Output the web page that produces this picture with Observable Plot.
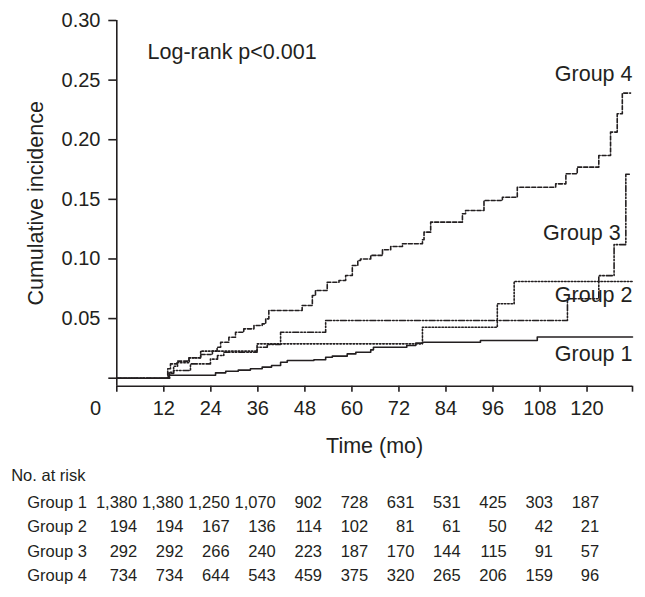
<!DOCTYPE html>
<html>
<head>
<meta charset="utf-8">
<script src="https://cdn.jsdelivr.net/npm/d3@7"></script>
<script src="https://cdn.jsdelivr.net/npm/@observablehq/plot@0.6"></script>
<style>
  html, body { margin: 0; padding: 0; background: #ffffff; }
  #chart svg { display: block; }
</style>
</head>
<body>
<div id="chart"></div>
<script>
// ---------- data ----------
const groups = ["Group 1", "Group 2", "Group 3", "Group 4"];

const g1Time  = [0, 13.3, 25.2, 27.8, 31, 34.1, 37.1, 39.5, 41.8, 43.5, 50.3, 53.3, 55, 58.8, 61, 64.8, 65.5, 74, 76.3, 78, 92.8, 107.3, 131.6];
const g1Value = [0, 0.0025, 0.0045, 0.0059, 0.0068, 0.0079, 0.0093, 0.0107, 0.0134, 0.0148, 0.0155, 0.0176, 0.0185, 0.0204, 0.0218, 0.0238, 0.026, 0.0274, 0.0294, 0.0302, 0.0316, 0.0345, 0.0345];

const g2Time  = [0, 13.3, 14.5, 15.5, 18.5, 21.4, 35.8, 78, 97.1, 101.4, 131.6];
const g2Value = [0, 0.005, 0.010, 0.013, 0.017, 0.0227, 0.0288, 0.0428, 0.0624, 0.0811, 0.0811];

const g3Time  = [0, 13.5, 14.5, 18.8, 23.9, 25.7, 27.3, 35.8, 38.4, 41.8, 53.3, 115, 123, 126.9, 129.9, 131.1];
const g3Value = [0, 0.004, 0.0065, 0.012, 0.016, 0.019, 0.0218, 0.026, 0.0283, 0.0386, 0.0484, 0.0666, 0.086, 0.112, 0.171, 0.171];

const g4Time  = [0, 13.0, 13.7, 15.4, 18.4, 21.4, 24.4, 25.6, 26.5, 28.6, 30.3, 32.4, 35, 37.1, 38, 38.8, 47.3, 49.9, 50.7, 53.7, 56.7, 58.4, 60.1, 61.5, 62.2, 64.8, 67.8, 69.9, 72.9, 78, 78.4, 80.1, 88.2, 89, 93.7, 98.4, 102.2, 112, 114.6, 117.5, 123, 126, 127.7, 129, 131.1];
const g4Value = [0, 0.0079, 0.012, 0.0143, 0.0171, 0.0199, 0.0227, 0.026, 0.0302, 0.0344, 0.0386, 0.0414, 0.0442, 0.0456, 0.0498, 0.0568, 0.061, 0.0694, 0.0736, 0.0805, 0.082, 0.0862, 0.0945, 0.0987, 0.1, 0.103, 0.1077, 0.1105, 0.1128, 0.1161, 0.1225, 0.1309, 0.1379, 0.1407, 0.149, 0.1518, 0.1602, 0.163, 0.1715, 0.177, 0.1868, 0.2064, 0.2218, 0.2391, 0.2391];

const atRiskTimes = [0, 12, 24, 36, 48, 60, 72, 84, 96, 108, 120];
const atRisk1 = [1380, 1380, 1250, 1070, 902, 728, 631, 531, 425, 303, 187];
const atRisk2 = [194, 194, 167, 136, 114, 102, 81, 61, 50, 42, 21];
const atRisk3 = [292, 292, 266, 240, 223, 187, 170, 144, 115, 91, 57];
const atRisk4 = [734, 734, 644, 543, 459, 375, 320, 265, 206, 159, 96];

const xTicks = [12, 24, 36, 48, 60, 72, 84, 96, 108, 120];
const yTicks = [0, 0.05, 0.10, 0.15, 0.20, 0.25, 0.30];
const xMax = 131.6;
const yMin = -0.0067;
const yMax = 0.30;

const groupLabels = ["Group 4", "Group 3", "Group 2", "Group 1"];
const groupLabelX = [131.6, 128.6, 131.6, 131.6];
const groupLabelY = [0.249, 0.1155, 0.0643, 0.0148];

const testText = "Log-rank p<0.001";
const testX = 7.84;
const testY = 0.268;

const xLabel = "Time (mo)";
const yLabel = "Cumulative incidence";
const tableTitle = "No. at risk";

// ---------- tables ----------
const times = [g1Time, g2Time, g3Time, g4Time];
const values = [g1Value, g2Value, g3Value, g4Value];
const curves = groups.map((g, i) => times[i].map((t, j) => ({group: g, time: t, value: values[i][j]})));
const risks = [atRisk1, atRisk2, atRisk3, atRisk4];
const riskRows = groups.flatMap((g, i) => atRiskTimes.map((t, j) => ({group: g, row: i + 1, time: t, n: risks[i][j]})));
const labelRows = groupLabels.map((t, i) => ({text: t, x: groupLabelX[i], y: groupLabelY[i]}));

const ink = "#231f20";
const font = "'Liberation Sans', Arial, Helvetica, sans-serif";
const dashes = {
  "Group 1": null,
  "Group 2": "1.5,1.8",
  "Group 3": "6,2,1.5,1.8,1.5,2",
  "Group 4": "4,2"
};

const W = 645, H1 = 460, H2 = 137;
const mTop = 20, mLeft = 116.3, mRight = 13, mBottom = H1 - 385.7;

const chart = Plot.plot({
  width: W,
  height: H1,
  marginTop: mTop,
  marginLeft: mLeft,
  marginRight: mRight,
  marginBottom: mBottom,
  style: {fontFamily: font, color: ink, background: "#fff", overflow: "visible"},
  x: {domain: [0, xMax]},
  y: {domain: [yMin, yMax]},
  marks: [
    ...curves.map((c, i) => Plot.line(c, {
      x: "time", y: "value", curve: "step-after",
      stroke: ink, strokeWidth: 1.6,
      strokeDasharray: dashes[groups[i]]
    })),
    Plot.ruleX([0], {stroke: ink, strokeWidth: 1.6}),
    Plot.ruleY([yMin], {stroke: ink, strokeWidth: 1.6}),
    Plot.axisY({
      ticks: yTicks,
      tickFormat: d => d === 0 ? "" : d3.format(".2f")(d),
      tickSize: 8, tickPadding: 8.3, fontSize: 20, strokeWidth: 1.6, label: null
    }),
    Plot.axisX({
      ticks: [0, ...xTicks, xMax],
      tickFormat: d => (d === 0 || d === xMax) ? "" : String(d),
      tickSize: 6, tickPadding: 9, fontSize: 20, strokeWidth: 1.6, label: null
    }),
    Plot.axisX({
      ticks: [0], tickFormat: d => String(d),
      tickSize: 0, tickPadding: 15, dx: -21.3, fontSize: 20, label: null
    }),
    Plot.text([xLabel], {
      frameAnchor: "bottom", text: d => d, dy: 67, lineAnchor: "bottom",
      fontSize: 21.5, fill: ink
    }),
    Plot.text([yLabel], {
      frameAnchor: "left", text: d => d, rotate: -90, dx: -74.3, lineAnchor: "bottom",
      textAnchor: "middle", fontSize: 21.5, fill: ink
    }),
    Plot.text([testText], {
      x: () => testX, y: () => testY, text: d => d, textAnchor: "start", lineAnchor: "bottom",
      fontSize: 21.5, fill: ink
    }),
    Plot.text(labelRows, {
      x: "x", y: "y", text: "text", textAnchor: "end", lineAnchor: "bottom",
      fontSize: 21.5, fill: ink
    })
  ]
});

const table = Plot.plot({
  width: W,
  height: H2,
  marginTop: 0, marginLeft: 0, marginRight: 0, marginBottom: 0,
  style: {fontFamily: font, color: ink, background: "#fff", overflow: "visible"},
  x: {domain: [0, 120], range: [136.7, 598.7], axis: null},
  y: {domain: [1, 4], range: [47.3, 120.7], axis: null},
  marks: [
    Plot.text([tableTitle], {
      frameAnchor: "top-left", text: d => d, dx: 10.7, dy: 20, lineAnchor: "bottom",
      textAnchor: "start", fontSize: 16.5, fill: ink
    }),
    Plot.text(groups, {
      frameAnchor: "left", y: (d, i) => i + 1, text: d => d, dx: 26.7, lineAnchor: "bottom",
      textAnchor: "start", fontSize: 16.5, fill: ink
    }),
    Plot.text(riskRows, {
      x: "time", y: "row", text: d => d3.format(",")(d.n), textAnchor: "end", lineAnchor: "bottom",
      fontSize: 16.5, fill: ink
    })
  ]
});

const root = document.getElementById("chart");
root.appendChild(chart);
root.appendChild(table);
</script>
</body>
</html>
